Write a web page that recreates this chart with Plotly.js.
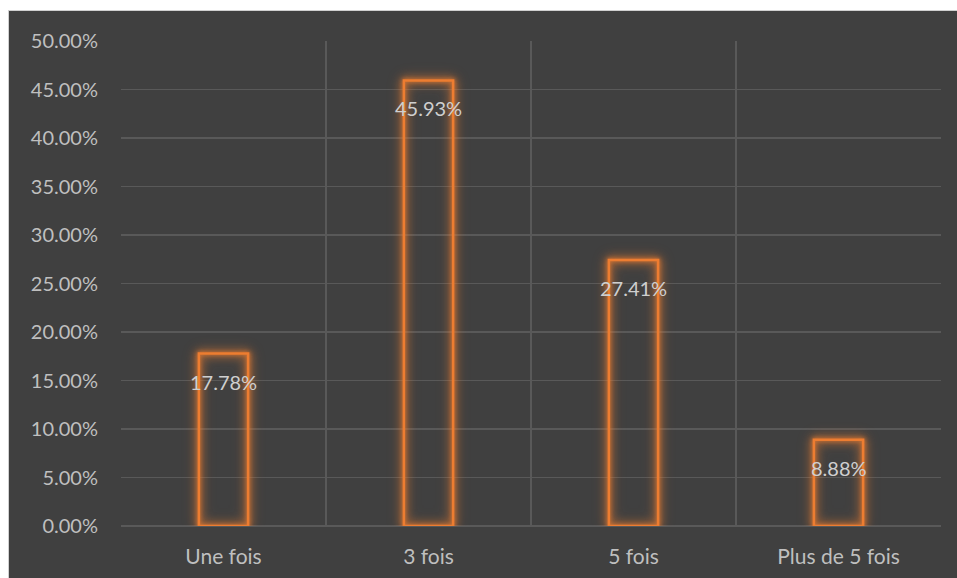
<!DOCTYPE html>
<html><head><meta charset="utf-8">
<script src="https://cdn.plot.ly/plotly-3.0.1.min.js"></script>
<style>
html,body{margin:0;padding:0;background:#ffffff;}
#wrap{position:absolute;left:0;top:0;width:957px;height:578px;background:#fff;}
#chart{position:absolute;left:8px;top:10px;width:949px;height:568px;border-left:1px solid #d0d0d0;border-top:1px solid #d0d0d0;box-sizing:border-box;}
#chart .trace.bars path{filter:drop-shadow(0 0 2px rgba(237,125,49,1)) drop-shadow(0 0 4px rgba(237,125,49,0.7)) drop-shadow(0 0 6px rgba(237,125,49,0.35));}
</style></head>
<body><div id="wrap"><div id="chart"></div></div>
<script>
const categories = ["Une fois", "3 fois", "5 fois", "Plus de 5 fois"];
const values = [0.1778, 0.4593, 0.2741, 0.0888];
const labels = ["17.78%", "45.93%", "27.41%", "8.88%"];

const orange = '#ED7D31';
const bars = {
  type:'bar', x:categories, y:values, width:0.24,
  marker:{color:'rgba(0,0,0,0)', line:{color:orange, width:2.5}},
  showlegend:false
};
const grid = {
  type:'scatter', x:[-0.5,3.5], y:[0,0], xaxis:'x2', mode:'lines',
  line:{color:'rgba(0,0,0,0)'}, hoverinfo:'skip', showlegend:false
};

const annotations = categories.map((c,i)=>({
  x:c, y:values[i], xref:'x', yref:'y', text:labels[i], showarrow:false,
  yshift:-28, font:{family:'Lato, sans-serif', size:20, color:'#cfcfcf'}
}));

const layout = {
  width:949, height:568,
  margin:{l:112, r:17, t:30, b:53},
  paper_bgcolor:'#404040', plot_bgcolor:'#404040',
  barmode:'overlay',
  font:{family:'Lato, sans-serif', size:20, color:'#bfbfbf'},
  xaxis:{type:'category', showgrid:false, zeroline:false, showline:false, ticks:'',
    ticklabelstandoff:16, tickfont:{size:21, color:'#bfbfbf'}, fixedrange:true},
  xaxis2:{overlaying:'x', range:[-0.5,3.5], tick0:-0.5, dtick:1, showgrid:true,
    gridcolor:'#595959', gridwidth:1.5, showticklabels:false, zeroline:false, showline:false, ticks:''},
  yaxis:{range:[0,0.5], dtick:0.05, tickformat:'.2%', showgrid:true, gridcolor:'#595959', gridwidth:1.5,
    zeroline:true, zerolinecolor:'#595959', zerolinewidth:1.5, showline:false, ticks:'',
    ticklabelstandoff:22, tickfont:{size:20, color:'#bfbfbf'}},
  annotations:annotations
};
Plotly.newPlot('chart', [grid, bars], layout, {displayModeBar:false, staticPlot:true});
</script></body></html>
